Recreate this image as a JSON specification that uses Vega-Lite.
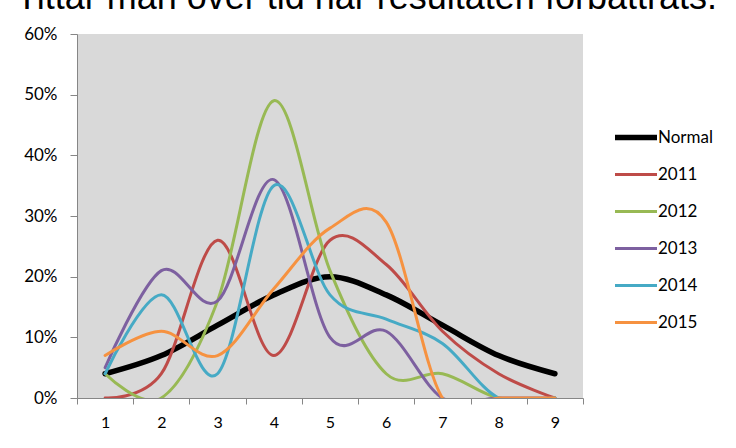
{
  "$schema": "https://vega.github.io/schema/vega-lite/v6.json",
  "width": 506,
  "height": 364,
  "autosize": "none",
  "padding": {"left": 77, "top": 34, "right": 153, "bottom": 50},
  "background": "white",
  "title": {
    "text": "Tittar man över tid har resultaten förbättrats.",
    "anchor": "start",
    "frame": "group",
    "dx": -61,
    "dy": 30,
    "offset": 10,
    "baseline": "alphabetic",
    "font": "Liberation Sans",
    "fontSize": 36,
    "fontWeight": "normal",
    "color": "#000000"
  },
  "data": {
    "values": [
      {"x": "1", "series": "Normal", "v": 0.04},
      {"x": "2", "series": "Normal", "v": 0.07},
      {"x": "3", "series": "Normal", "v": 0.12},
      {"x": "4", "series": "Normal", "v": 0.17},
      {"x": "5", "series": "Normal", "v": 0.20},
      {"x": "6", "series": "Normal", "v": 0.17},
      {"x": "7", "series": "Normal", "v": 0.12},
      {"x": "8", "series": "Normal", "v": 0.07},
      {"x": "9", "series": "Normal", "v": 0.04},
      {"x": "1", "series": "2011", "v": 0.00},
      {"x": "2", "series": "2011", "v": 0.04},
      {"x": "3", "series": "2011", "v": 0.26},
      {"x": "4", "series": "2011", "v": 0.07},
      {"x": "5", "series": "2011", "v": 0.26},
      {"x": "6", "series": "2011", "v": 0.22},
      {"x": "7", "series": "2011", "v": 0.11},
      {"x": "8", "series": "2011", "v": 0.04},
      {"x": "9", "series": "2011", "v": 0.00},
      {"x": "1", "series": "2012", "v": 0.04},
      {"x": "2", "series": "2012", "v": 0.00},
      {"x": "3", "series": "2012", "v": 0.16},
      {"x": "4", "series": "2012", "v": 0.49},
      {"x": "5", "series": "2012", "v": 0.21},
      {"x": "6", "series": "2012", "v": 0.04},
      {"x": "7", "series": "2012", "v": 0.04},
      {"x": "8", "series": "2012", "v": 0.00},
      {"x": "9", "series": "2012", "v": 0.00},
      {"x": "1", "series": "2013", "v": 0.05},
      {"x": "2", "series": "2013", "v": 0.21},
      {"x": "3", "series": "2013", "v": 0.16},
      {"x": "4", "series": "2013", "v": 0.36},
      {"x": "5", "series": "2013", "v": 0.10},
      {"x": "6", "series": "2013", "v": 0.11},
      {"x": "7", "series": "2013", "v": 0.00},
      {"x": "8", "series": "2013", "v": 0.00},
      {"x": "9", "series": "2013", "v": 0.00},
      {"x": "1", "series": "2014", "v": 0.04},
      {"x": "2", "series": "2014", "v": 0.17},
      {"x": "3", "series": "2014", "v": 0.04},
      {"x": "4", "series": "2014", "v": 0.35},
      {"x": "5", "series": "2014", "v": 0.17},
      {"x": "6", "series": "2014", "v": 0.13},
      {"x": "7", "series": "2014", "v": 0.09},
      {"x": "8", "series": "2014", "v": 0.00},
      {"x": "9", "series": "2014", "v": 0.00},
      {"x": "1", "series": "2015", "v": 0.07},
      {"x": "2", "series": "2015", "v": 0.11},
      {"x": "3", "series": "2015", "v": 0.07},
      {"x": "4", "series": "2015", "v": 0.18},
      {"x": "5", "series": "2015", "v": 0.28},
      {"x": "6", "series": "2015", "v": 0.29},
      {"x": "7", "series": "2015", "v": 0.00},
      {"x": "8", "series": "2015", "v": 0.00},
      {"x": "9", "series": "2015", "v": 0.00}
    ]
  },
  "mark": {"type": "line", "interpolate": "cardinal", "clip": true, "strokeCap": "round", "strokeJoin": "round"},
  "encoding": {
    "x": {
      "field": "x",
      "type": "ordinal",
      "bandPosition": 0.5,
      "scale": {"type": "band", "paddingInner": 0, "paddingOuter": 0},
      "axis": {
        "title": null,
        "labelAngle": 0,
        "tickBand": "extent",
        "tickSize": 6,
        "tickColor": "#868686",
        "domainColor": "#868686",
        "labelFont": "Lato",
        "labelFontSize": 16,
        "labelColor": "#000000",
        "labelPadding": 10,
        "grid": false
      }
    },
    "y": {
      "field": "v",
      "type": "quantitative",
      "scale": {"domain": [0, 0.6], "nice": false},
      "axis": {
        "title": null,
        "values": [0, 0.1, 0.2, 0.3, 0.4, 0.5, 0.6],
        "format": ".0%",
        "tickSize": 7,
        "tickColor": "#868686",
        "domainColor": "#868686",
        "labelFont": "Lato",
        "labelFontSize": 17,
        "labelColor": "#000000",
        "labelPadding": 13,
        "grid": false
      }
    },
    "color": {
      "field": "series",
      "type": "nominal",
      "scale": {
        "domain": ["Normal", "2011", "2012", "2013", "2014", "2015"],
        "range": ["#000000", "#BE4B48", "#98B954", "#7D60A0", "#46AAC5", "#F69240"]
      },
      "legend": {
        "title": null,
        "orient": "none",
        "legendX": 535,
        "legendY": 85,
        "padding": 0,
        "symbolType": "stroke",
        "symbolSize": 1764,
        "clipHeight": 37,
        "rowPadding": 0,
        "labelOffset": -2,
        "labelFont": "Lato",
        "labelFontSize": 17,
        "labelColor": "#000000"
      }
    },
    "strokeWidth": {
      "field": "series",
      "type": "nominal",
      "scale": {
        "type": "ordinal",
        "domain": ["Normal", "2011", "2012", "2013", "2014", "2015"],
        "range": [5.5, 3, 3, 3, 3, 3]
      }
    }
  },
  "config": {
    "view": {"fill": "#D9D9D9", "stroke": null}
  }
}
